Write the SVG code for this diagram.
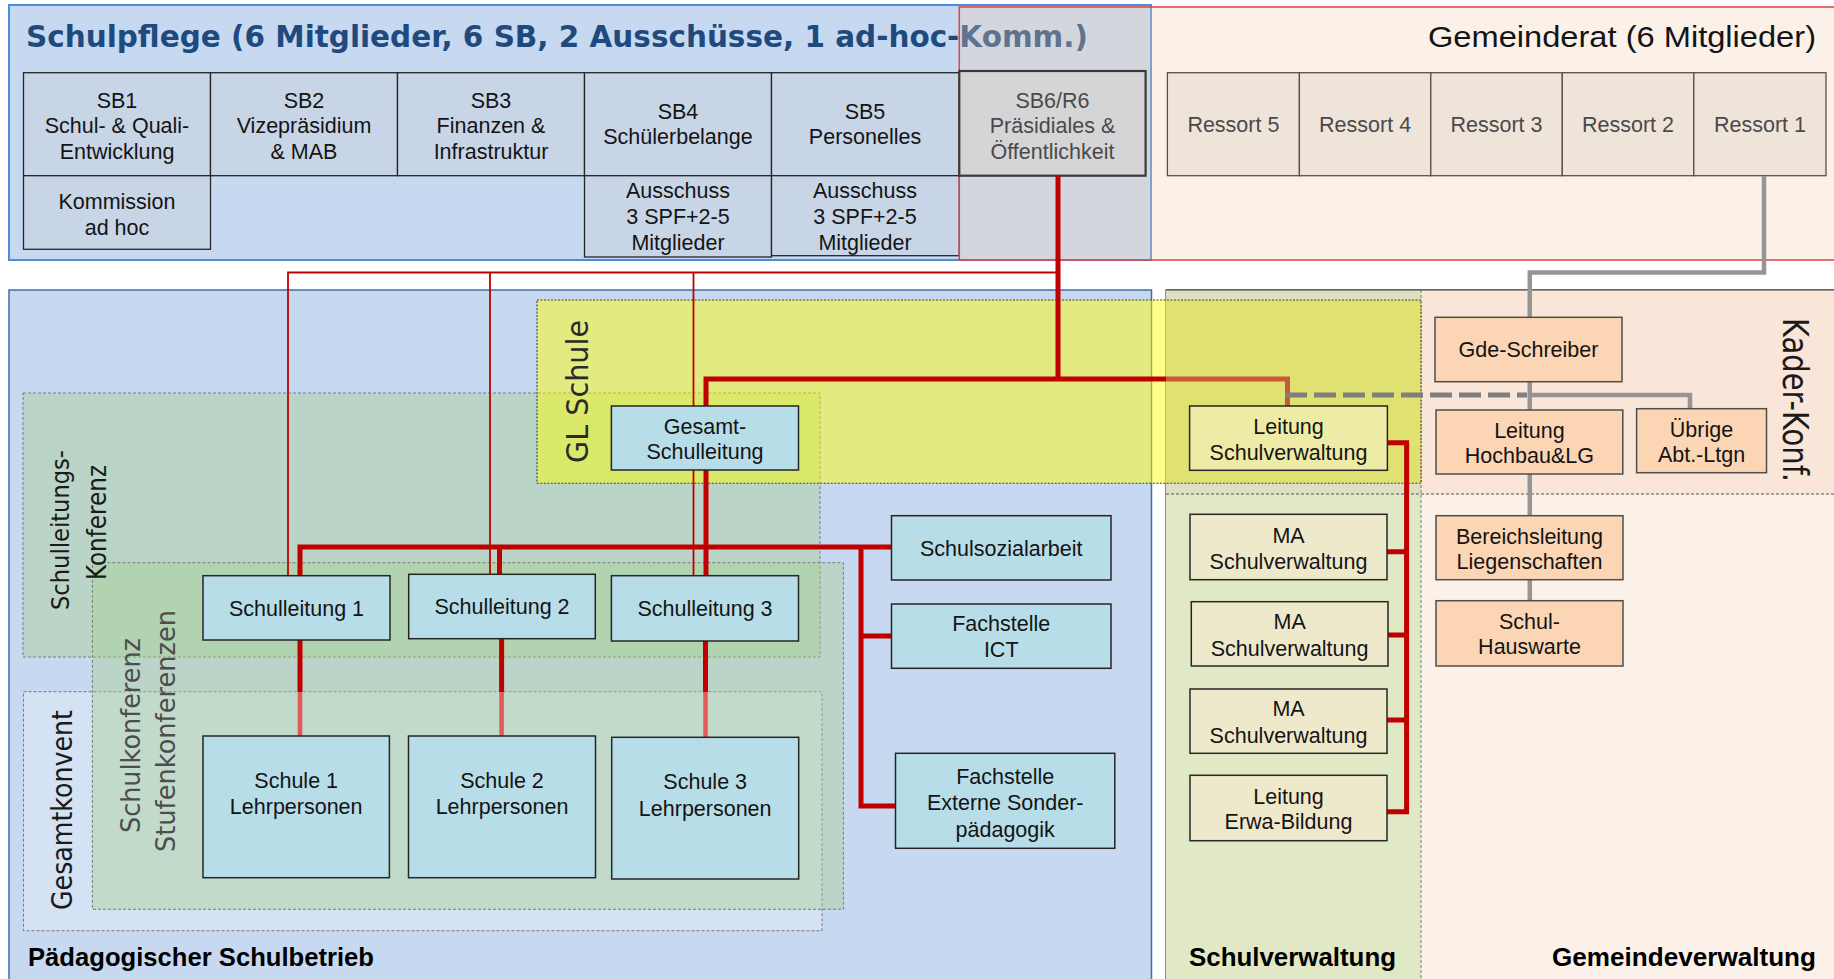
<svg xmlns="http://www.w3.org/2000/svg" width="1834" height="979" viewBox="0 0 1834 979">
<defs>
<style>
.t{font-family:"Liberation Sans",Arial,sans-serif;font-size:21.5px;fill:#141414;text-anchor:middle}
.tg{fill:#4a4a4a}
.v{font-family:"DejaVu Sans",Verdana,sans-serif;text-anchor:middle;fill:#1a1a1a}
.b{font-family:"Liberation Sans",Arial,sans-serif;font-weight:bold;font-size:25px;fill:#000}
.sb{fill:#c8d5e6;stroke:#262626;stroke-width:1.3}
.rs{fill:#efe4da;stroke:#5a5048;stroke-width:1.3}
.bl{fill:#b7dde8;stroke:#262626;stroke-width:1.5}
.be{fill:#efe9cc;stroke:#262626;stroke-width:1.5}
.pe{fill:#fcd5b4;stroke:#4d4d4d;stroke-width:1.5}
.dash{stroke:#7a7a7a;stroke-width:1;stroke-dasharray:3 2}
.rt{fill:none;stroke:#c00000;stroke-width:5}
.rl{fill:none;stroke:#e05a5a;stroke-width:4.5}
.rn{fill:none;stroke:#c00000;stroke-width:1.8}
.gr{fill:none;stroke:#959595;stroke-width:4.5}
</style>
</defs>
<rect width="1834" height="979" fill="#ffffff"/>

<!-- Schulpflege -->
<g id="schulpflege">
<rect x="9" y="5" width="1142" height="255" fill="#c6d9f1" stroke="#4a8fd6" stroke-width="2"/>
<text x="26" y="47" font-family="'DejaVu Sans',Verdana,sans-serif" font-weight="bold" font-size="31" fill="#1f4a7e" textLength="1062" lengthAdjust="spacingAndGlyphs">Schulpflege (6 Mitglieder, 6 SB, 2 Ausschüsse, 1 ad-hoc-Komm.)</text>
</g>
<g id="sb1"><rect class="sb" x="23.5" y="72.7" width="187" height="103"/><text class="t" x="117" y="107.5">SB1</text><text class="t" x="117" y="132.5">Schul- &amp; Quali-</text><text class="t" x="117" y="158.5">Entwicklung</text></g>
<g id="sb2"><rect class="sb" x="210.5" y="72.7" width="187" height="103"/><text class="t" x="304" y="107.5">SB2</text><text class="t" x="304" y="132.5">Vizepräsidium</text><text class="t" x="304" y="158.5">&amp; MAB</text></g>
<g id="sb3"><rect class="sb" x="397.5" y="72.7" width="187" height="103"/><text class="t" x="491" y="107.5">SB3</text><text class="t" x="491" y="132.5">Finanzen &amp;</text><text class="t" x="491" y="158.5">Infrastruktur</text></g>
<g id="sb4"><rect class="sb" x="584.5" y="72.7" width="187" height="103"/><text class="t" x="678" y="119">SB4</text><text class="t" x="678" y="144">Schülerbelange</text></g>
<g id="sb5"><rect class="sb" x="771.5" y="72.7" width="187.8" height="103"/><text class="t" x="865" y="119">SB5</text><text class="t" x="865" y="144">Personelles</text></g>
<g id="kommission"><rect class="sb" x="23.5" y="175.7" width="187" height="73.6"/><text class="t" x="117" y="209">Kommission</text><text class="t" x="117" y="235">ad hoc</text></g>
<g id="ausschuss4"><rect class="sb" x="584.5" y="175.7" width="187" height="81.3"/><text class="t" x="678" y="198">Ausschuss</text><text class="t" x="678" y="224">3 SPF+2-5</text><text class="t" x="678" y="250">Mitglieder</text></g>
<g id="ausschuss5"><rect class="sb" x="771.5" y="175.7" width="187.8" height="80"/><text class="t" x="865" y="198">Ausschuss</text><text class="t" x="865" y="224">3 SPF+2-5</text><text class="t" x="865" y="250">Mitglieder</text></g>

<!-- Gemeinderat -->
<g id="gemeinderat">
<rect x="959.3" y="7" width="890" height="253" fill="#f5d0b2" fill-opacity="0.3" stroke="#e04040" stroke-width="1.5"/>
<text x="1816" y="47" font-family="'Liberation Sans',Arial,sans-serif" font-size="30" fill="#141414" text-anchor="end" textLength="388" lengthAdjust="spacingAndGlyphs">Gemeinderat (6 Mitglieder)</text>
</g>
<g id="sb6"><rect x="959.3" y="71" width="186.3" height="104.7" fill="#d5d5d7" stroke="#3a3a3a" stroke-width="2.2"/><text class="t tg" x="1052.5" y="107.5">SB6/R6</text><text class="t tg" x="1052.5" y="132.5">Präsidiales &amp;</text><text class="t tg" x="1052.5" y="158.5">Öffentlichkeit</text></g>
<g id="ressort5"><rect class="rs" x="1167.4" y="72.7" width="132" height="103"/><text class="t tg" x="1233.4" y="131.5">Ressort 5</text></g>
<g id="ressort4"><rect class="rs" x="1299.4" y="72.7" width="131.4" height="103"/><text class="t tg" x="1365.1" y="131.5">Ressort 4</text></g>
<g id="ressort3"><rect class="rs" x="1430.8" y="72.7" width="131.5" height="103"/><text class="t tg" x="1496.5" y="131.5">Ressort 3</text></g>
<g id="ressort2"><rect class="rs" x="1562.3" y="72.7" width="131.5" height="103"/><text class="t tg" x="1628" y="131.5">Ressort 2</text></g>
<g id="ressort1"><rect class="rs" x="1693.8" y="72.7" width="132.2" height="103"/><text class="t tg" x="1760" y="131.5">Ressort 1</text></g>

<!-- Lower areas -->
<g id="paed-area">
<rect x="9" y="290" width="1142.5" height="700" fill="#c6d9f1" stroke="#3f6fa8" stroke-width="1.5"/>
<rect x="23.5" y="691.7" width="798.5" height="239" fill="#ffffff" fill-opacity="0.25" class="dash"/>
<rect x="23" y="393" width="797" height="264" fill="#a8d08d" fill-opacity="0.4" class="dash"/>
<rect x="92.4" y="562.7" width="751" height="346.6" fill="#a8d08d" fill-opacity="0.4" class="dash"/>
</g>
<g id="verw-area">
<rect x="1166" y="290" width="700" height="700" fill="#fcf1e8" stroke="#404040" stroke-width="1.2"/>
<rect x="1166" y="290" width="700" height="204" fill="#fae6d8"/>
<rect x="1166" y="494" width="255" height="490" fill="#e1e8c5"/>
<rect x="1166" y="290" width="255" height="204" fill="#dcdfc1"/>
<line x1="1421" y1="290" x2="1421" y2="979" class="dash"/>
<line x1="1166" y1="494" x2="1834" y2="494" stroke="#555" stroke-width="1.2" stroke-dasharray="3 2"/>
<line x1="1166" y1="290" x2="1834" y2="290" stroke="#404040" stroke-width="1.2"/>
</g>
<g id="gl-area">
<rect x="537" y="300" width="629" height="183.3" fill="#ffff00" fill-opacity="0.47"/>
<rect x="1166" y="300" width="255" height="183.3" fill="#dfe170"/>
<rect x="537" y="300" width="884" height="183.3" fill="none" stroke="#404040" stroke-width="1.1" stroke-dasharray="2 1.5"/>
</g>

<!-- Area labels -->
<g id="labels">
<text class="v" font-size="25" transform="translate(69,530) rotate(-90)" textLength="160" lengthAdjust="spacingAndGlyphs">Schulleitungs-</text>
<text class="v" font-size="27" transform="translate(106,522.5) rotate(-90)" textLength="115" lengthAdjust="spacingAndGlyphs">Konferenz</text>
<text class="v" font-size="27" style="fill:#4d4d4d" transform="translate(139.5,735.5) rotate(-90)" textLength="195" lengthAdjust="spacingAndGlyphs">Schulkonferenz</text>
<text class="v" font-size="27" style="fill:#4d4d4d" transform="translate(174.5,731) rotate(-90)" textLength="242" lengthAdjust="spacingAndGlyphs">Stufenkonferenzen</text>
<text class="v" font-size="29" transform="translate(72,810) rotate(-90)" textLength="200" lengthAdjust="spacingAndGlyphs">Gesamtkonvent</text>
<text class="v" font-size="31" style="fill:#2a2a2a" transform="translate(588,391.5) rotate(-90)" textLength="143" lengthAdjust="spacingAndGlyphs">GL Schule</text>
<text class="v" font-size="35" transform="translate(1783,400) rotate(90)" textLength="164" lengthAdjust="spacingAndGlyphs">Kader-Konf.</text>
<text class="b" x="28" y="966" textLength="346" lengthAdjust="spacingAndGlyphs">Pädagogischer Schulbetrieb</text>
<text class="b" x="1189" y="966" textLength="207" lengthAdjust="spacingAndGlyphs">Schulverwaltung</text>
<text class="b" x="1552" y="966" textLength="264" lengthAdjust="spacingAndGlyphs">Gemeindeverwaltung</text>
</g>

<!-- Connectors -->
<g id="connectors">
<path class="rn" d="M288,575 V272.5 H1058 M490,575 V272.5 M693.5,575 V272.5"/>
<path class="rt" d="M1058,176 V379 M706,575 V379 H1166"/>
<path fill="none" stroke="#c8583a" stroke-width="5" d="M1166,379 H1287.5 V406"/>
<path class="rt" d="M300,575.7 V547 H891.5 M499.5,574.3 V547 M861,547 V806 H895.5 M861,636 H891.5"/>
<path class="rt" stroke-width="4.5" d="M300,640 V692 M501.6,638.7 V692 M705.5,641 V692"/>
<path class="rl" d="M300,692 V736 M501.6,692 V736 M705.5,692 V737.3"/>
<path class="rt" d="M1387,442.7 H1406.6 V811.7 H1387 M1387,551.7 H1406.6 M1388,635 H1406.6 M1387,720 H1406.6"/>
<path class="gr" stroke="#a0a0a0" stroke-width="4" d="M1764,176 V272.5 H1529.8 V318"/>
<path class="gr" d="M1529.8,318 V601"/>
<path class="gr" stroke="#a59f9a" d="M1529.8,395 H1690 V408.7"/>
<path fill="none" stroke="#7f7f7f" stroke-width="5" stroke-dasharray="22 7" d="M1285,395 H1527"/>
</g>

<!-- Nodes lower -->
<g id="gesamt-schulleitung"><rect class="bl" x="611.4" y="406" width="187.1" height="64"/><text class="t" x="705" y="434">Gesamt-</text><text class="t" x="705" y="459">Schulleitung</text></g>
<g id="schulleitung1"><rect class="bl" x="203" y="575.7" width="187" height="64.3"/><text class="t" x="296.5" y="615.5">Schulleitung 1</text></g>
<g id="schulleitung2"><rect class="bl" x="408.7" y="574.3" width="186.6" height="64.4"/><text class="t" x="502" y="614">Schulleitung 2</text></g>
<g id="schulleitung3"><rect class="bl" x="611.4" y="575.7" width="187.1" height="65.3"/><text class="t" x="705" y="616">Schulleitung 3</text></g>
<g id="schule1"><rect class="bl" x="203" y="736" width="186.4" height="141.7"/><text class="t" x="296.2" y="787.5">Schule 1</text><text class="t" x="296.2" y="814">Lehrpersonen</text></g>
<g id="schule2"><rect class="bl" x="408.5" y="736" width="187" height="141.7"/><text class="t" x="502" y="787.5">Schule 2</text><text class="t" x="502" y="814">Lehrpersonen</text></g>
<g id="schule3"><rect class="bl" x="611.7" y="737.3" width="187" height="141.7"/><text class="t" x="705.2" y="789">Schule 3</text><text class="t" x="705.2" y="815.5">Lehrpersonen</text></g>
<g id="schulsozialarbeit"><rect class="bl" x="891.5" y="515.7" width="219.5" height="64.3"/><text class="t" x="1001.2" y="555.5">Schulsozialarbeit</text></g>
<g id="fachstelle-ict"><rect class="bl" x="891.5" y="604" width="219.5" height="64.3"/><text class="t" x="1001.2" y="631">Fachstelle</text><text class="t" x="1001.2" y="657">ICT</text></g>
<g id="fachstelle-sonder"><rect class="bl" x="895.5" y="753.3" width="219.3" height="95"/><text class="t" x="1005.2" y="784">Fachstelle</text><text class="t" x="1005.2" y="810">Externe Sonder-</text><text class="t" x="1005.2" y="837">pädagogik</text></g>
<g id="leitung-sv"><rect x="1189.6" y="406" width="197.8" height="64.3" fill="#eeeba6" stroke="#262626" stroke-width="1.5"/><text class="t" x="1288.5" y="434">Leitung</text><text class="t" x="1288.5" y="460">Schulverwaltung</text></g>
<g id="ma-sv1"><rect class="be" x="1190" y="514.3" width="197" height="65.4"/><text class="t" x="1288.5" y="542.5">MA</text><text class="t" x="1288.5" y="568.5">Schulverwaltung</text></g>
<g id="ma-sv2"><rect class="be" x="1191.3" y="601.7" width="196.7" height="64.3"/><text class="t" x="1289.6" y="629">MA</text><text class="t" x="1289.6" y="655.5">Schulverwaltung</text></g>
<g id="ma-sv3"><rect class="be" x="1190" y="689" width="197" height="64.3"/><text class="t" x="1288.5" y="716">MA</text><text class="t" x="1288.5" y="742.5">Schulverwaltung</text></g>
<g id="leitung-erwa"><rect class="be" x="1190" y="775.3" width="197" height="65.4"/><text class="t" x="1288.5" y="803.5">Leitung</text><text class="t" x="1288.5" y="829">Erwa-Bildung</text></g>
<g id="gde-schreiber"><rect class="pe" x="1435" y="317.3" width="187" height="64.4"/><text class="t" x="1528.5" y="357">Gde-Schreiber</text></g>
<g id="leitung-hochbau"><rect class="pe" x="1436" y="410" width="186.8" height="64"/><text class="t" x="1529.4" y="437.5">Leitung</text><text class="t" x="1529.4" y="462.5">Hochbau&amp;LG</text></g>
<g id="uebrige"><rect class="pe" x="1636.6" y="408.7" width="129.9" height="64"/><text class="t" x="1701.5" y="436.5">Übrige</text><text class="t" x="1701.5" y="461.5">Abt.-Ltgn</text></g>
<g id="bereichsleitung"><rect class="pe" x="1436" y="515.7" width="187" height="64"/><text class="t" x="1529.5" y="544">Bereichsleitung</text><text class="t" x="1529.5" y="569">Liegenschaften</text></g>
<g id="hauswarte"><rect class="pe" x="1436" y="600.7" width="187" height="65.3"/><text class="t" x="1529.5" y="629">Schul-</text><text class="t" x="1529.5" y="654">Hauswarte</text></g>
</svg>
